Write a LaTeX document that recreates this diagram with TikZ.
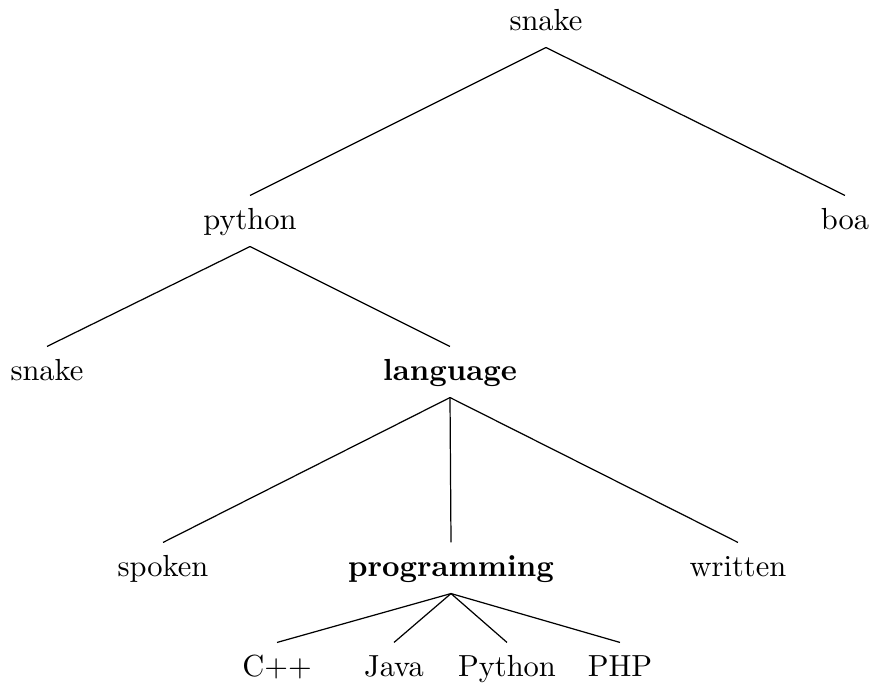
\documentclass[tikz,border=0pt]{standalone}
\begin{document}
\begin{tikzpicture}[x=0.328pt,y=-0.328pt,
  leaf/.style={anchor=base,inner sep=3.33pt,text height=7.8pt,text depth=1.9pt},
  edge/.style={line width=0.4pt}]
\useasboundingbox (0,0) rectangle (872,688);
% tree nodes, placed on their baselines
\node[leaf] (root)   at (546,31)  {snake};
\node[leaf] (python) at (250,230) {python};
\node[leaf] (boa)    at (845,230) {boa};
\node[leaf] (snk)    at (47,381)  {snake};
\node[leaf] (lang)   at (450,381) {\textbf{language}};
\node[leaf] (spoken) at (163,577) {spoken};
\node[leaf] (prog)   at (451,577) {\textbf{programming}};
\node[leaf] (writ)   at (738,577) {written};
\node[leaf] (cpp)    at (277,677) {C++};
\node[leaf] (java)   at (394,677) {Java};
\node[leaf] (py)     at (507,677) {Python};
\node[leaf] (php)    at (620,677) {PHP};
% edges from parent to child
\draw[edge] (root.south) -- (python.north);
\draw[edge] (root.south) -- (boa.north);
\draw[edge] (python.south) -- (snk.north);
\draw[edge] (python.south) -- (lang.north);
\draw[edge] (lang.south) -- (spoken.north);
\draw[edge] (lang.south) -- (prog.north);
\draw[edge] (lang.south) -- (writ.north);
\draw[edge] (prog.south) -- (cpp.north);
\draw[edge] (prog.south) -- (java.north);
\draw[edge] (prog.south) -- (py.north);
\draw[edge] (prog.south) -- (php.north);
\end{tikzpicture}
\end{document}
